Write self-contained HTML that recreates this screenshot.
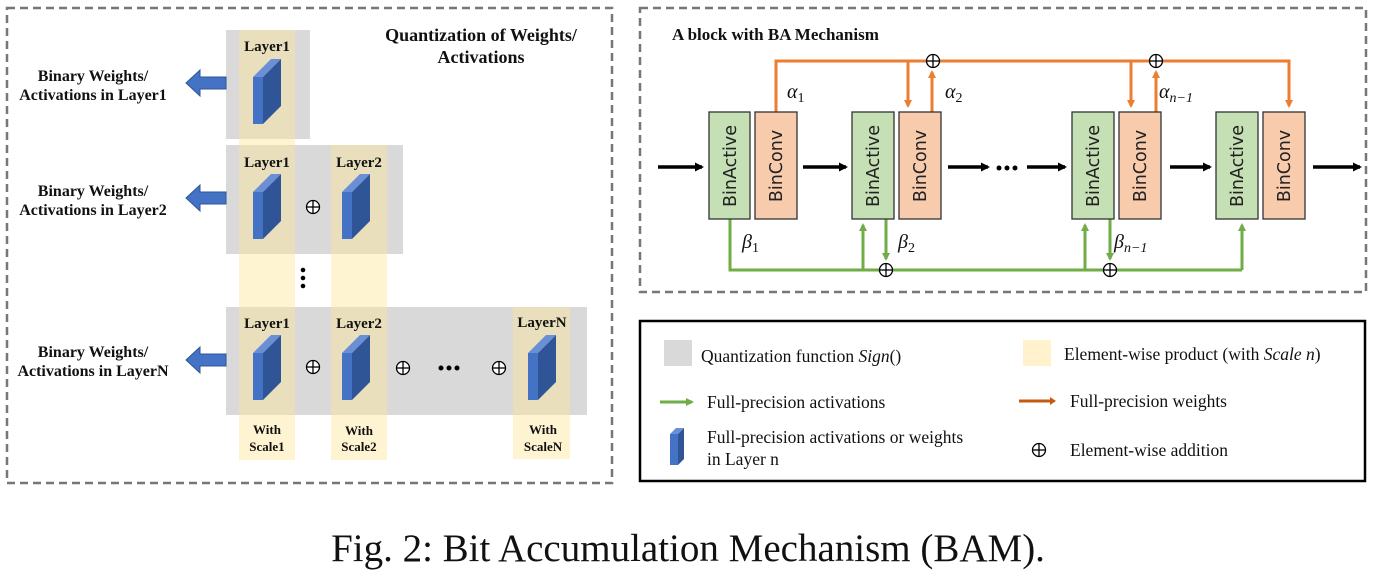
<!DOCTYPE html>
<html><head><meta charset="utf-8"><style>
html,body{margin:0;padding:0;background:#fff;}
svg{display:block;}
.b{font-family:"Liberation Serif",serif;font-weight:bold;font-size:15px;fill:#111;}
.s{font-family:"Liberation Serif",serif;font-size:17.5px;fill:#111;}
.g{font-family:"DejaVu Sans","Liberation Sans",sans-serif;font-size:17.5px;fill:#222;}
.m{font-family:"Liberation Serif",serif;font-style:italic;font-size:20px;fill:#111;}
</style></head><body>
<svg width="1376" height="585" viewBox="0 0 1376 585" xmlns="http://www.w3.org/2000/svg">
<defs>
<g id="blk"><polygon points="0,18 18,0 28,0 10,18" fill="#6A8FD6"/><polygon points="10,18 28,0 28,47 10,65" fill="#2F5597"/><rect x="0" y="18" width="10" height="47" fill="#4472C4"/></g>
<g id="pl"><circle cx="0" cy="0" r="6.5" fill="#fff" stroke="#000" stroke-width="1.3"/><line x1="-6.5" y1="0" x2="6.5" y2="0" stroke="#000" stroke-width="1.3"/><line x1="0" y1="-6.5" x2="0" y2="6.5" stroke="#000" stroke-width="1.3"/></g>
<g id="larr"><polygon points="0,0 14,-13 14,-6 40,-6 40,6 14,6 14,13" fill="#4472C4" stroke="#2F5597" stroke-width="1"/></g>
<marker id="ao" markerWidth="8" markerHeight="8" refX="6" refY="4" orient="auto" markerUnits="userSpaceOnUse"><path d="M0,0 L8,4 L0,8 Z" fill="#ED7D31"/></marker>
<marker id="ag" markerWidth="8" markerHeight="8" refX="6" refY="4" orient="auto" markerUnits="userSpaceOnUse"><path d="M0,0 L8,4 L0,8 Z" fill="#70AD47"/></marker>
<marker id="ak" markerWidth="9" markerHeight="9" refX="7" refY="4.5" orient="auto" markerUnits="userSpaceOnUse"><path d="M0,0 L9,4.5 L0,9 Z" fill="#000"/></marker>
</defs>

<!-- LEFT PANEL -->
<rect x="7" y="8" width="605" height="475" fill="none" stroke="#777" stroke-width="2.5" stroke-dasharray="8,5"/>
<rect x="226" y="30" width="84" height="109" fill="#D9D9D9"/>
<rect x="226" y="145" width="177" height="109" fill="#D9D9D9"/>
<rect x="226" y="307" width="361" height="108" fill="#D9D9D9"/>
<g fill="#FFE699" fill-opacity="0.45">
<rect x="239" y="30" width="56" height="430"/>
<rect x="331" y="145" width="56" height="315"/>
<rect x="513" y="307" width="57" height="152"/>
</g>
<text class="b" x="267" y="51" text-anchor="middle">Layer1</text>
<text class="b" x="267" y="167" text-anchor="middle">Layer1</text>
<text class="b" x="359" y="167" text-anchor="middle">Layer2</text>
<text class="b" x="267" y="328" text-anchor="middle">Layer1</text>
<text class="b" x="359" y="328" text-anchor="middle">Layer2</text>
<text class="b" x="542" y="327" text-anchor="middle">LayerN</text>
<use href="#blk" x="253" y="59"/>
<use href="#blk" x="253" y="174"/>
<use href="#blk" x="342" y="174"/>
<use href="#blk" x="253" y="335"/>
<use href="#blk" x="342" y="335"/>
<use href="#blk" x="528" y="335"/>
<use href="#pl" x="313" y="207"/>
<use href="#pl" x="313" y="367"/>
<use href="#pl" x="403" y="368"/>
<use href="#pl" x="499" y="368"/>
<g fill="#000"><circle cx="441" cy="368" r="2.5"/><circle cx="449" cy="368" r="2.5"/><circle cx="457" cy="368" r="2.5"/>
<circle cx="303" cy="270" r="2.3"/><circle cx="303" cy="278" r="2.3"/><circle cx="303" cy="286" r="2.3"/></g>
<use href="#larr" x="186" y="83"/>
<use href="#larr" x="186" y="198"/>
<use href="#larr" x="186" y="360"/>
<g class="b" style="font-size:16px" text-anchor="middle">
<text x="93" y="81">Binary Weights/</text>
<text x="93" y="100">Activations in Layer1</text>
<text x="93" y="196">Binary Weights/</text>
<text x="93" y="215">Activations in Layer2</text>
<text x="93" y="357">Binary Weights/</text>
<text x="93" y="376">Activations in LayerN</text>
</g>
<text class="b" style="font-size:18px" x="481" y="41" text-anchor="middle">Quantization of Weights/</text>
<text class="b" style="font-size:18px" x="481" y="63" text-anchor="middle">Activations</text>
<g class="b" style="font-size:13px" text-anchor="middle">
<text x="267" y="434">With</text><text x="267" y="451">Scale1</text>
<text x="359" y="435">With</text><text x="359" y="451">Scale2</text>
<text x="543" y="434">With</text><text x="543" y="451">ScaleN</text>
</g>

<!-- RIGHT PANEL -->
<rect x="640" y="8" width="726" height="284" fill="none" stroke="#777" stroke-width="2.5" stroke-dasharray="8,5"/>
<text class="b" style="font-size:17px" x="672" y="40">A block with BA Mechanism</text>
<g stroke="#000" stroke-width="3.5" fill="none">
<line x1="658" y1="167" x2="702" y2="167" marker-end="url(#ak)"/>
<line x1="803" y1="167" x2="846" y2="167" marker-end="url(#ak)"/>
<line x1="948" y1="167" x2="988" y2="167" marker-end="url(#ak)"/>
<line x1="1027" y1="167" x2="1065" y2="167" marker-end="url(#ak)"/>
<line x1="1170" y1="167" x2="1210" y2="167" marker-end="url(#ak)"/>
<line x1="1313" y1="167" x2="1360" y2="167" marker-end="url(#ak)"/>
</g>
<g fill="#000"><circle cx="999" cy="168" r="2.5"/><circle cx="1007" cy="168" r="2.5"/><circle cx="1015" cy="168" r="2.5"/></g>
<g stroke="#ED7D31" stroke-width="3" fill="none">
<polyline points="776,112 776,61 1289,61 1289,106" marker-end="url(#ao)"/>
<line x1="908" y1="61" x2="908" y2="106" marker-end="url(#ao)"/>
<line x1="932" y1="112" x2="932" y2="72" marker-end="url(#ao)"/>
<line x1="1131" y1="61" x2="1131" y2="106" marker-end="url(#ao)"/>
<line x1="1156" y1="112" x2="1156" y2="72" marker-end="url(#ao)"/>
</g>
<g stroke="#70AD47" stroke-width="3" fill="none">
<polyline points="730,219 730,270 1242,270"/>
<line x1="1242" y1="270" x2="1242" y2="225" marker-end="url(#ag)"/>
<line x1="863" y1="270" x2="863" y2="225" marker-end="url(#ag)"/>
<line x1="886" y1="219" x2="886" y2="259" marker-end="url(#ag)"/>
<line x1="1085" y1="270" x2="1085" y2="225" marker-end="url(#ag)"/>
<line x1="1110" y1="219" x2="1110" y2="259" marker-end="url(#ag)"/>
</g>
<use href="#pl" x="933" y="61"/>
<use href="#pl" x="1156" y="61"/>
<use href="#pl" x="886" y="270"/>
<use href="#pl" x="1110" y="270"/>
<g stroke="#333" stroke-width="1.3">
<rect x="709" y="112" width="41" height="107" fill="#C5E0B4"/>
<rect x="755" y="112" width="42" height="107" fill="#F8CBAD"/>
<rect x="852" y="112" width="42" height="107" fill="#C5E0B4"/>
<rect x="899" y="112" width="42" height="107" fill="#F8CBAD"/>
<rect x="1072" y="112" width="42" height="107" fill="#C5E0B4"/>
<rect x="1119" y="112" width="42" height="107" fill="#F8CBAD"/>
<rect x="1216" y="112" width="42" height="107" fill="#C5E0B4"/>
<rect x="1263" y="112" width="42" height="107" fill="#F8CBAD"/>
</g>
<g class="g" text-anchor="middle">
<text transform="translate(736,166) rotate(-90)">BinActive</text>
<text transform="translate(782,166) rotate(-90)">BinConv</text>
<text transform="translate(879,166) rotate(-90)">BinActive</text>
<text transform="translate(926,166) rotate(-90)">BinConv</text>
<text transform="translate(1099,166) rotate(-90)">BinActive</text>
<text transform="translate(1146,166) rotate(-90)">BinConv</text>
<text transform="translate(1243,166) rotate(-90)">BinActive</text>
<text transform="translate(1290,166) rotate(-90)">BinConv</text>
</g>
<text class="m" x="787" y="98">α<tspan font-size="14" font-style="normal" dy="4">1</tspan></text>
<text class="m" x="945" y="98">α<tspan font-size="14" font-style="normal" dy="4">2</tspan></text>
<text class="m" x="1159" y="98">α<tspan font-size="14" dy="4">n−1</tspan></text>
<text class="m" x="742" y="248">β<tspan font-size="14" font-style="normal" dy="4">1</tspan></text>
<text class="m" x="898" y="248">β<tspan font-size="14" font-style="normal" dy="4">2</tspan></text>
<text class="m" x="1114" y="248">β<tspan font-size="14" dy="4">n−1</tspan></text>

<!-- LEGEND -->
<rect x="640" y="321" width="725" height="160" fill="none" stroke="#000" stroke-width="2.5"/>
<rect x="664" y="340" width="28" height="26" fill="#D9D9D9"/>
<text class="s" x="701" y="362">Quantization function <tspan font-style="italic">Sign</tspan>()</text>
<rect x="1023" y="340" width="28" height="26" fill="#FFF2CC"/>
<text class="s" x="1064" y="360">Element-wise product (with <tspan font-style="italic">Scale n</tspan>)</text>
<line x1="660" y1="402" x2="692" y2="402" stroke="#70AD47" stroke-width="3" marker-end="url(#ag)"/>
<text class="s" x="707" y="408">Full-precision activations</text>
<line x1="1019" y1="401" x2="1051" y2="401" stroke="#C55A11" stroke-width="3"/>
<path d="M1050,397 L1056,401 L1050,405 Z" fill="#C55A11"/>
<text class="s" x="1070" y="407">Full-precision weights</text>
<polygon points="670,434 676,428 684,428 678,434" fill="#6A8FD6"/>
<polygon points="678,434 684,428 684,459 678,465" fill="#2F5597"/>
<rect x="670" y="434" width="8" height="31" fill="#4472C4"/>
<text class="s" x="707" y="443">Full-precision activations or weights</text>
<text class="s" x="707" y="465">in Layer n</text>
<use href="#pl" x="1039" y="450"/>
<text class="s" x="1070" y="456">Element-wise addition</text>

<text x="688" y="561" text-anchor="middle" font-family="Liberation Serif,serif" font-size="39" fill="#111">Fig. 2: Bit Accumulation Mechanism (BAM).</text>
</svg>
</body></html>
